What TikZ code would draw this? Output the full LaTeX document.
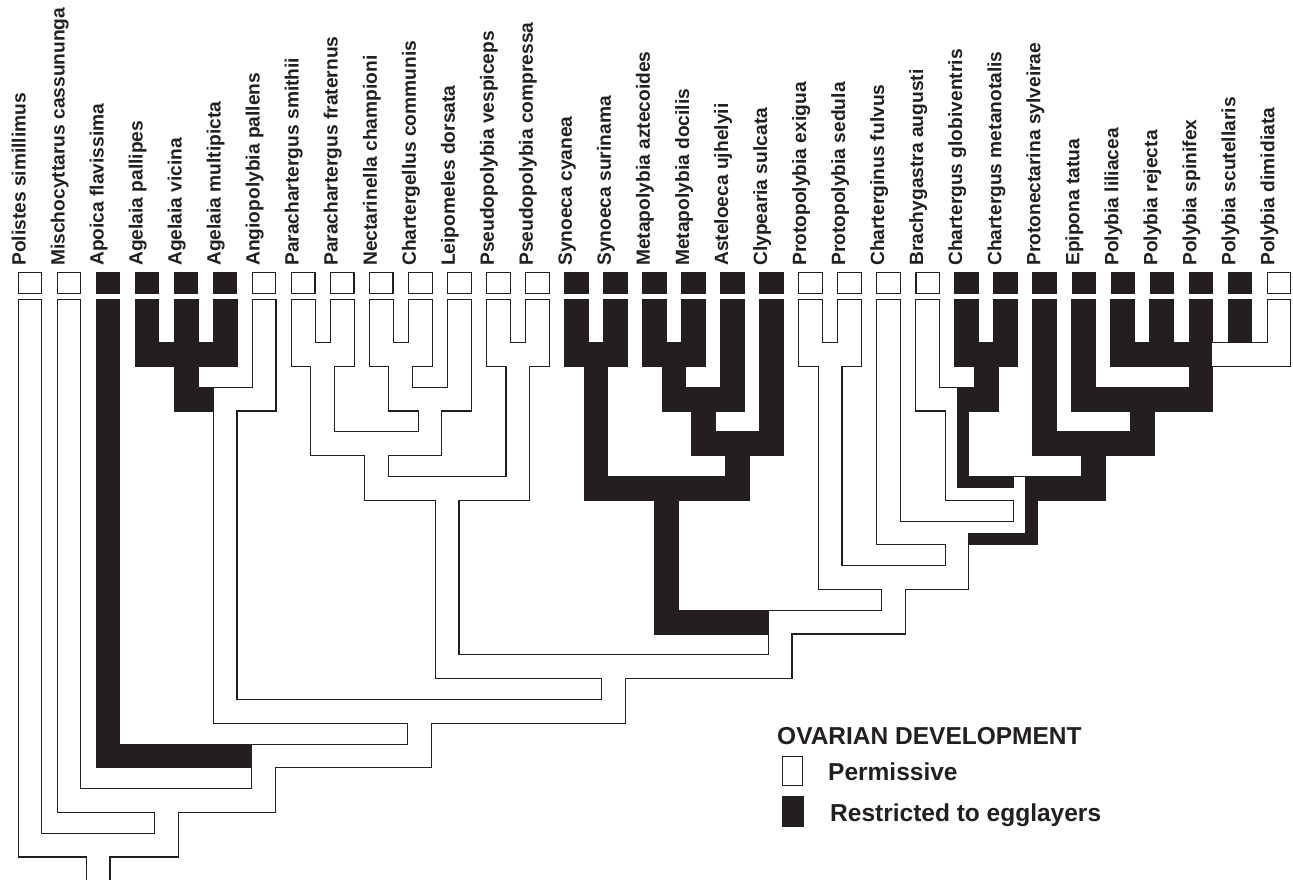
\documentclass[tikz,border=0pt]{standalone}
\usepackage{fontspec}
\setmainfont{Liberation Sans}
\definecolor{ink}{RGB}{35,31,32}
\begin{document}
\begin{tikzpicture}[x=1pt,y=-1pt, line join=miter,
  bord/.style={draw=ink, line width=24.8pt},
  wf/.style={draw=white, line width=22.6pt},
  bf/.style={draw=ink, line width=22.6pt},
  hf/.style={draw=ink, line width=11.3pt},
  tbox/.style={draw=ink, line width=1.1pt, minimum width=23.5pt, minimum height=21pt, inner sep=0pt, outer sep=0pt},
  lab/.style={rotate=90, anchor=base west, inner sep=0pt, font=\fontsize{19.2}{22}\selectfont\bfseries, text=ink},
  legt/.style={anchor=base west, inner sep=0pt, font=\fontsize{24.5}{28}\selectfont\bfseries, text=ink}]
\useasboundingbox (0,0) rectangle (1293,880);

% ---------- pass 1: outlines ----------
\foreach \xc/\yt/\yb/\xp in {
 30/299/845.1/98.19, 69.03/299/800.5/166.38, 108.06/299/755.9/263.72,
 147.09/299/354.5/186.12, 225.15/299/354.5/186.12, 264.18/299/399.1/225.15,
 303.21/299/354.5/322.73, 342.24/299/354.5/322.73, 381.27/299/354.5/400.79,
 420.30/299/354.5/400.79, 459.33/299/399.1/430.06, 498.36/299/354.5/517.88,
 537.39/299/354.5/517.88, 576.42/299/354.5/595.94, 615.45/299/354.5/595.94,
 654.48/299/354.5/674.00, 693.51/299/354.5/674.00, 732.54/299/399.1/703.27,
 771.57/299/443.7/737.42, 810.60/299/354.5/830.12, 849.63/299/354.5/830.12,
 888.66/299/532.9/956.96, 927.69/299/399.1/956.96, 966.72/299/354.5/986.24,
 1005.75/299/354.5/986.24, 1044.78/299/443.7/1093.57, 1083.81/299/399.1/1142.36,
 1122.84/299/354.5/1200.90, 1161.87/299/354.5/1200.90, 1278.96/299/354.5/1200.90,
 186.12/354.5/399.1/225.15, 225.15/399.1/711.3/419.39, 322.73/354.5/443.7/376.39,
 400.79/354.5/399.1/430.06, 430.06/399.1/443.7/376.39, 376.39/443.7/488.3/447.13,
 517.88/354.5/488.3/447.13, 447.13/488.3/666.7/613.62, 595.94/354.5/488.3/666.68,
 674.00/354.5/399.1/703.27, 703.27/399.1/443.7/737.42, 737.42/443.7/488.3/666.68,
 666.68/488.3/622.1/780.11, 830.12/354.5/577.5/893.54, 986.24/354.5/399.1/956.96,
 956.96/399.1/488.3/1025.27, 1200.90/354.5/399.1/1142.36, 1142.36/399.1/443.7/1093.57,
 1093.57/443.7/488.3/1025.27, 1025.27/488.3/532.9/956.96, 956.96/532.9/577.5/893.54,
 893.54/577.5/622.1/780.11, 780.11/622.1/666.7/613.62, 613.62/666.7/711.3/419.39,
 419.39/711.3/755.9/263.72, 263.72/755.9/800.5/166.38, 166.38/800.5/845.1/98.19}
 \draw[bord] (\xc,\yt) -- (\xc,\yb) -- (\xp,\yb);
\foreach \xc/\yt/\yb in {186.12/299/354.5, 1200.90/299/354.5, 1239.93/299/343.2, 98.19/845.1/886}
 \draw[bord] (\xc,\yt) -- (\xc,\yb);

% ---------- pass 2: white fills ----------
\foreach \xc/\yt/\yb/\xp in {
 30/300.1/845.1/98.19, 69.03/300.1/800.5/166.38, 264.18/300.1/399.1/225.15,
 303.21/300.1/354.5/322.73, 342.24/300.1/354.5/322.73, 381.27/300.1/354.5/400.79,
 420.30/300.1/354.5/400.79, 459.33/300.1/399.1/430.06, 498.36/300.1/354.5/517.88,
 537.39/300.1/354.5/517.88, 810.60/300.1/354.5/830.12, 849.63/300.1/354.5/830.12,
 888.66/300.1/532.9/956.96, 927.69/300.1/399.1/956.96, 1278.96/300.1/354.5/1200.90,
 225.15/387.8/711.3/419.39, 322.73/343.2/443.7/376.39, 400.79/343.2/399.1/430.06,
 430.06/387.8/443.7/376.39, 376.39/432.4/488.3/447.13, 517.88/343.2/488.3/447.13,
 447.13/477.0/666.7/613.62, 830.12/343.2/577.5/893.54, 956.96/387.8/488.3/1025.27,
 1025.27/477.0/532.9/956.96, 956.96/521.6/577.5/893.54, 893.54/566.2/622.1/780.11,
 780.11/610.8/666.7/613.62, 613.62/655.4/711.3/419.39, 419.39/700.0/755.9/263.72,
 263.72/744.6/800.5/166.38, 166.38/789.2/845.1/98.19}
 \draw[wf] (\xc,\yt) -- (\xc,\yb) -- (\xp,\yb);
\draw[wf] (98.19,833.8) -- (98.19,886);

% ---------- pass 3: black fills ----------
\foreach \xc/\yt/\yb/\xp in {
 108.06/300.1/755.9/252.42, 147.09/300.1/354.5/186.12, 225.15/300.1/354.5/186.12,
 576.42/300.1/354.5/595.94, 615.45/300.1/354.5/595.94, 654.48/300.1/354.5/674.00,
 693.51/300.1/354.5/674.00, 732.54/300.1/399.1/703.27, 771.57/300.1/443.7/737.42,
 966.72/300.1/354.5/986.24, 1005.75/300.1/354.5/986.24, 1044.78/300.1/443.7/1093.57,
 1083.81/300.1/399.1/1142.36, 1122.84/300.1/354.5/1200.90, 1161.87/300.1/354.5/1200.90,
 186.12/343.2/399.1/213.85, 595.94/343.2/488.3/666.68, 674.00/343.2/399.1/703.27,
 703.27/387.8/443.7/737.42, 737.42/432.4/488.3/666.68, 666.68/477.0/622.1/768.81,
 986.24/343.2/399.1/968.26, 1200.90/343.2/399.1/1142.36, 1142.36/387.8/443.7/1093.57,
 1093.57/432.4/488.3/1036.57}
 \draw[bf] (\xc,\yt) -- (\xc,\yb) -- (\xp,\yb);
\foreach \xc/\yt/\yb in {186.12/300.1/354.5, 1200.90/300.1/354.5, 1239.93/300.1/342.6}
 \draw[bf] (\xc,\yt) -- (\xc,\yb);
% half-black (equivocal) branches
\draw[hf] (962.61,387.8) -- (962.61,482.65) -- (1013.97,482.65);
\draw[hf] (1030.92,477.0) -- (1030.92,538.55) -- (968.26,538.55);

% ---------- tip boxes and labels ----------
\foreach \n/\t/\f in {
 1/Polistes simillimus/white, 2/Mischocyttarus cassununga/white, 3/Apoica flavissima/ink,
 4/Agelaia pallipes/ink, 5/Agelaia vicina/ink, 6/Agelaia multipicta/ink,
 7/Angiopolybia pallens/white, 8/Parachartergus smithii/white, 9/Parachartergus fraternus/white,
 10/Nectarinella championi/white, 11/Chartergellus communis/white, 12/Leipomeles dorsata/white,
 13/Pseudopolybia vespiceps/white, 14/Pseudopolybia compressa/white, 15/Synoeca cyanea/ink,
 16/Synoeca surinama/ink, 17/Metapolybia aztecoides/ink, 18/Metapolybia docilis/ink,
 19/Asteloeca ujhelyii/ink, 20/Clypearia sulcata/ink, 21/Protopolybia exigua/white,
 22/Protopolybia sedula/white, 23/Charterginus fulvus/white, 24/Brachygastra augusti/white,
 25/Chartergus globiventris/ink, 26/Chartergus metanotalis/ink, 27/Protonectarina sylveirae/ink,
 28/Epipona tatua/ink, 29/Polybia liliacea/ink, 30/Polybia rejecta/ink,
 31/Polybia spinifex/ink, 32/Polybia scutellaris/ink, 33/Polybia dimidiata/white}
{
 \pgfmathsetmacro\xx{30+39.03*(\n-1)}
 \node[tbox, fill=\f] (b\n) at (\xx,283) {};
 \node[lab] (l\n) at (\xx-4.5,266) {\t};
}

% ---------- legend ----------
\node[legt] (lgt) at (777,744) {OVARIAN DEVELOPMENT};
\node[tbox, fill=white, minimum width=20pt, minimum height=29pt] (lgw) at (792.5,771) {};
\node[legt] (lgwt) at (828,780) {Permissive};
\node[tbox, fill=ink, minimum width=20pt, minimum height=30pt] (lgb) at (793,811.5) {};
\node[legt] (lgbt) at (830,821) {Restricted to egglayers};
\end{tikzpicture}
\end{document}
